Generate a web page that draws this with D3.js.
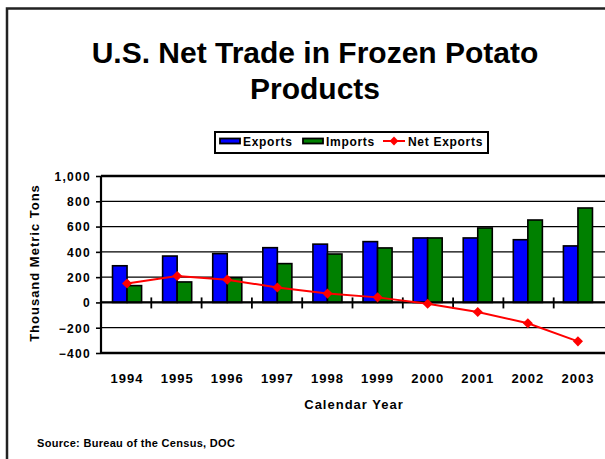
<!DOCTYPE html>
<html>
<head>
<meta charset="utf-8">
<script src="https://cdn.jsdelivr.net/npm/d3@7"></script>
<style>
  html, body { margin: 0; padding: 0; background: #fff; }
  svg { display: block; font-family: "Liberation Sans", Arial, sans-serif; font-weight: bold; }
</style>
</head>
<body>
<svg id="chart" width="605" height="459"></svg>
<script>
// U.S. frozen potato product trade, thousand metric tons
const years = ["1994", "1995", "1996", "1997", "1998", "1999", "2000", "2001", "2002", "2003"];
const exportsData = [290, 367, 386, 433, 461, 481, 510, 510, 496, 447];
const importsData = [133, 162, 196, 307, 383, 431, 510, 589, 652, 747];
const netExports = [150, 209, 180, 118, 70, 40, -10, -76, -165, -308];
const yTicks = [-400, -200, 0, 200, 400, 600, 800, 1000];
const seriesNames = ["Exports", "Imports"];
const seriesColors = ["#0000ff", "#008000"];
const lineColor = "#ff0000";

const svg = d3.select("#chart");

// frame
svg.append("path")
  .attr("d", "M7,459 V8.5 H605")
  .attr("fill", "none").attr("stroke", "#222").attr("stroke-width", 2.5);

// title
const title = svg.append("text").attr("text-anchor", "middle")
  .attr("font-size", 30).attr("fill", "#000");
title.append("tspan").attr("x", 315).attr("y", 63).text("U.S. Net Trade in Frozen Potato");
title.append("tspan").attr("x", 315).attr("y", 98.5).text("Products");

// plot scales
const plotLeft = 101, plotRight = 604, plotTop = 176, plotBottom = 353;
const x = d3.scaleBand().domain(years).range([plotLeft, plotRight])
  .paddingInner(0.42).paddingOuter(0.23);
const xs = d3.scaleBand().domain(seriesNames).range([0, x.bandwidth()]);
const y = d3.scaleLinear().domain([-400, 1000]).range([plotBottom, plotTop]);
const step = (plotRight - plotLeft) / years.length;

// horizontal gridlines
svg.append("g").selectAll("line").data(yTicks).join("line")
  .attr("x1", plotLeft).attr("x2", 605)
  .attr("y1", d => y(d)).attr("y2", d => y(d))
  .attr("stroke", "#000")
  .attr("stroke-width", d => (d === 1000 || d === -400) ? 2.5 : 1.2);

// bars
const barData = [];
years.forEach((yr, i) => {
  barData.push({ year: yr, s: "Exports", v: exportsData[i], c: seriesColors[0] });
  barData.push({ year: yr, s: "Imports", v: importsData[i], c: seriesColors[1] });
});
svg.append("g").selectAll("rect").data(barData).join("rect")
  .attr("x", d => x(d.year) + xs(d.s))
  .attr("width", xs.bandwidth())
  .attr("y", d => y(Math.max(0, d.v)))
  .attr("height", d => Math.abs(y(d.v) - y(0)))
  .attr("fill", d => d.c)
  .attr("stroke", "#000").attr("stroke-width", 1.6);

// zero axis with crossing category ticks
svg.append("line").attr("x1", plotLeft).attr("x2", 605)
  .attr("y1", y(0)).attr("y2", y(0)).attr("stroke", "#000").attr("stroke-width", 2.2);
svg.append("g").selectAll("line").data(years.slice(1)).join("line")
  .attr("x1", (d, i) => plotLeft + (i + 1) * step)
  .attr("x2", (d, i) => plotLeft + (i + 1) * step)
  .attr("y1", y(0) - 5).attr("y2", y(0) + 6)
  .attr("stroke", "#000").attr("stroke-width", 1.8);

// value axis
const yAxis = svg.append("g").attr("transform", `translate(${plotLeft},0)`)
  .call(d3.axisLeft(y).tickValues(yTicks).tickSize(5).tickPadding(5)
    .tickFormat(d3.format(",")));
yAxis.select(".domain").attr("stroke", "#000").attr("stroke-width", 2.2)
  .attr("d", `M0,${plotTop}V${plotBottom}`);
yAxis.selectAll(".tick line").attr("stroke", "#000").attr("stroke-width", 1.6);
yAxis.selectAll(".tick text")
  .attr("font-size", 12).attr("font-family", "Liberation Sans, Arial, sans-serif")
  .attr("font-weight", "bold").attr("letter-spacing", 1.3).attr("fill", "#000")
  .attr("dy", "0.36em");

// net exports line with diamond markers
const cx = i => x(years[i]) + x.bandwidth() / 2;
svg.append("path").datum(netExports)
  .attr("d", d3.line().x((d, i) => cx(i)).y(d => y(d)))
  .attr("fill", "none").attr("stroke", lineColor).attr("stroke-width", 2);
const diamond = d3.symbol().type(d3.symbolDiamond2).size(65);
svg.append("g").selectAll("path").data(netExports).join("path")
  .attr("d", diamond)
  .attr("transform", (d, i) => `translate(${cx(i)},${y(d)})`)
  .attr("fill", lineColor);

// category labels
svg.append("g").selectAll("text").data(years).join("text")
  .attr("x", d => x(d) + x.bandwidth() / 2)
  .attr("y", 383)
  .attr("text-anchor", "middle").attr("font-size", 13).attr("letter-spacing", 1)
  .text(d => d);

// axis titles
svg.append("text").attr("x", 354).attr("y", 409)
  .attr("text-anchor", "middle").attr("font-size", 13).attr("letter-spacing", 1)
  .text("Calendar Year");
svg.append("text")
  .attr("transform", "translate(39,263) rotate(-90)")
  .attr("text-anchor", "middle").attr("font-size", 13).attr("letter-spacing", 1)
  .text("Thousand Metric Tons");

// legend
const lg = svg.append("g");
lg.append("rect").attr("x", 215).attr("y", 132).attr("width", 273).attr("height", 21)
  .attr("fill", "#fff").attr("stroke", "#000").attr("stroke-width", 2);
const legendItems = [
  { name: "Exports", type: "bar", color: seriesColors[0], sx: 220, tx: 243 },
  { name: "Imports", type: "bar", color: seriesColors[1], sx: 303, tx: 326 },
  { name: "Net Exports", type: "line", color: lineColor, sx: 383, tx: 408 }
];
legendItems.forEach(it => {
  if (it.type === "bar") {
    lg.append("rect").attr("x", it.sx).attr("y", 138.5).attr("width", 20).attr("height", 5)
      .attr("fill", it.color).attr("stroke", "#000").attr("stroke-width", 1.8);
  } else {
    lg.append("line").attr("x1", it.sx).attr("x2", it.sx + 22)
      .attr("y1", 141).attr("y2", 141).attr("stroke", it.color).attr("stroke-width", 2);
    lg.append("path").attr("d", d3.symbol().type(d3.symbolDiamond2).size(50))
      .attr("transform", `translate(${it.sx + 11},141)`).attr("fill", it.color);
  }
  lg.append("text").attr("x", it.tx).attr("y", 146)
    .attr("font-size", 12).attr("letter-spacing", 0.7).text(it.name);
});

// source note
svg.append("text").attr("x", 37).attr("y", 447)
  .attr("font-size", 11).attr("letter-spacing", 0.3)
  .text("Source:  Bureau of the Census, DOC");
</script>
</body>
</html>
